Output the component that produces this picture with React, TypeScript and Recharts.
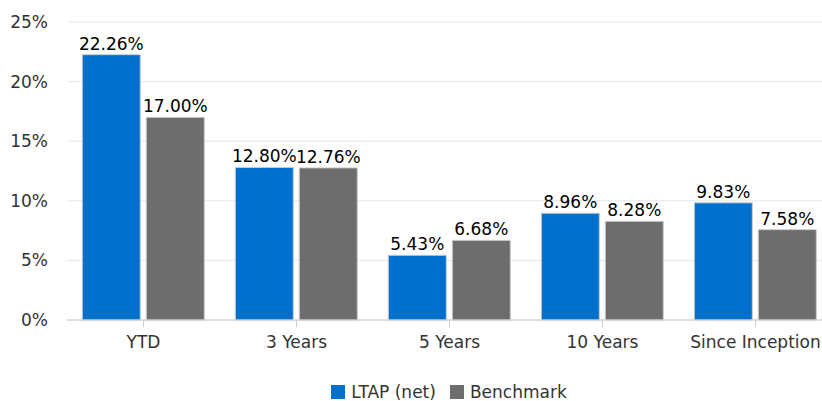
import React from 'react';
import {
  BarChart,
  Bar,
  XAxis,
  YAxis,
  CartesianGrid,
  Legend,
  LabelList,
} from 'recharts';

// Data
const CATEGORIES = ['YTD', '3 Years', '5 Years', '10 Years', 'Since Inception'];
const LTAP_NET = [22.26, 12.8, 5.43, 8.96, 9.83];
const BENCHMARK = [17.0, 12.76, 6.68, 8.28, 7.58];
const Y_TICKS = [0, 5, 10, 15, 20, 25];

const SERIES = [
  { key: 'ltap', name: 'LTAP (net)', color: '#0070cc' },
  { key: 'bench', name: 'Benchmark', color: '#6d6d6d' },
];

const DATA = CATEGORIES.map((name, i) => ({
  name,
  ltap: LTAP_NET[i],
  bench: BENCHMARK[i],
}));

const FONT = '"DejaVu Sans", Verdana, sans-serif';

const renderLegend = () => (
  <div
    style={{
      height: 36,
      boxSizing: 'border-box',
      paddingTop: 17,
      paddingLeft: 66,
      display: 'flex',
      justifyContent: 'center',
      fontFamily: FONT,
      fontSize: 17,
      lineHeight: '16px',
      color: '#333',
    }}
  >
    {SERIES.map((s, i) => (
      <div key={s.key} style={{ display: 'flex', alignItems: 'center', marginLeft: i ? 14 : 0 }}>
        <span style={{ width: 14, height: 14, background: s.color, display: 'inline-block', marginRight: 6 }} />
        <span>{s.name}</span>
      </div>
    ))}
  </div>
);

export default function App() {
  return (
    <div style={{ position: 'absolute', left: 0, top: 0, width: 822, height: 401, overflow: 'hidden', background: '#fff' }}>
      <BarChart
        width={898}
        height={401}
        data={DATA}
        margin={{ top: 22, right: 66, bottom: 0, left: 0 }}
        barCategoryGap="10%"
        barGap={6}
      >
        <CartesianGrid horizontal vertical={false} stroke="#e6e6e6" />
        <XAxis
          dataKey="name"
          height={45}
          axisLine={{ stroke: '#cccccc' }}
          tickLine={{ stroke: '#cccccc' }}
          tickSize={7}
          tickMargin={9}
          tick={{ fill: '#333', fontSize: 17, fontFamily: FONT }}
          interval={0}
        />
        <YAxis
          width={67}
          domain={[0, 25]}
          ticks={Y_TICKS}
          tickFormatter={(v: number) => `${v}%`}
          axisLine={false}
          tickLine={false}
          tickSize={0}
          tickMargin={19}
          tick={{ fill: '#333', fontSize: 17, fontFamily: FONT }}
        />
        <Legend verticalAlign="bottom" height={36} content={renderLegend} />
        {SERIES.map((s) => (
          <Bar
            key={s.key}
            dataKey={s.key}
            name={s.name}
            fill={s.color}
            stroke="#cccccc"
            strokeWidth={1}
            isAnimationActive={false}
          >
            <LabelList
              dataKey={s.key}
              position="top"
              offset={5}
              formatter={(v: number) => `${v.toFixed(2)}%`}
              style={{ fill: '#000', fontSize: 17, fontFamily: FONT }}
            />
          </Bar>
        ))}
      </BarChart>
    </div>
  );
}
